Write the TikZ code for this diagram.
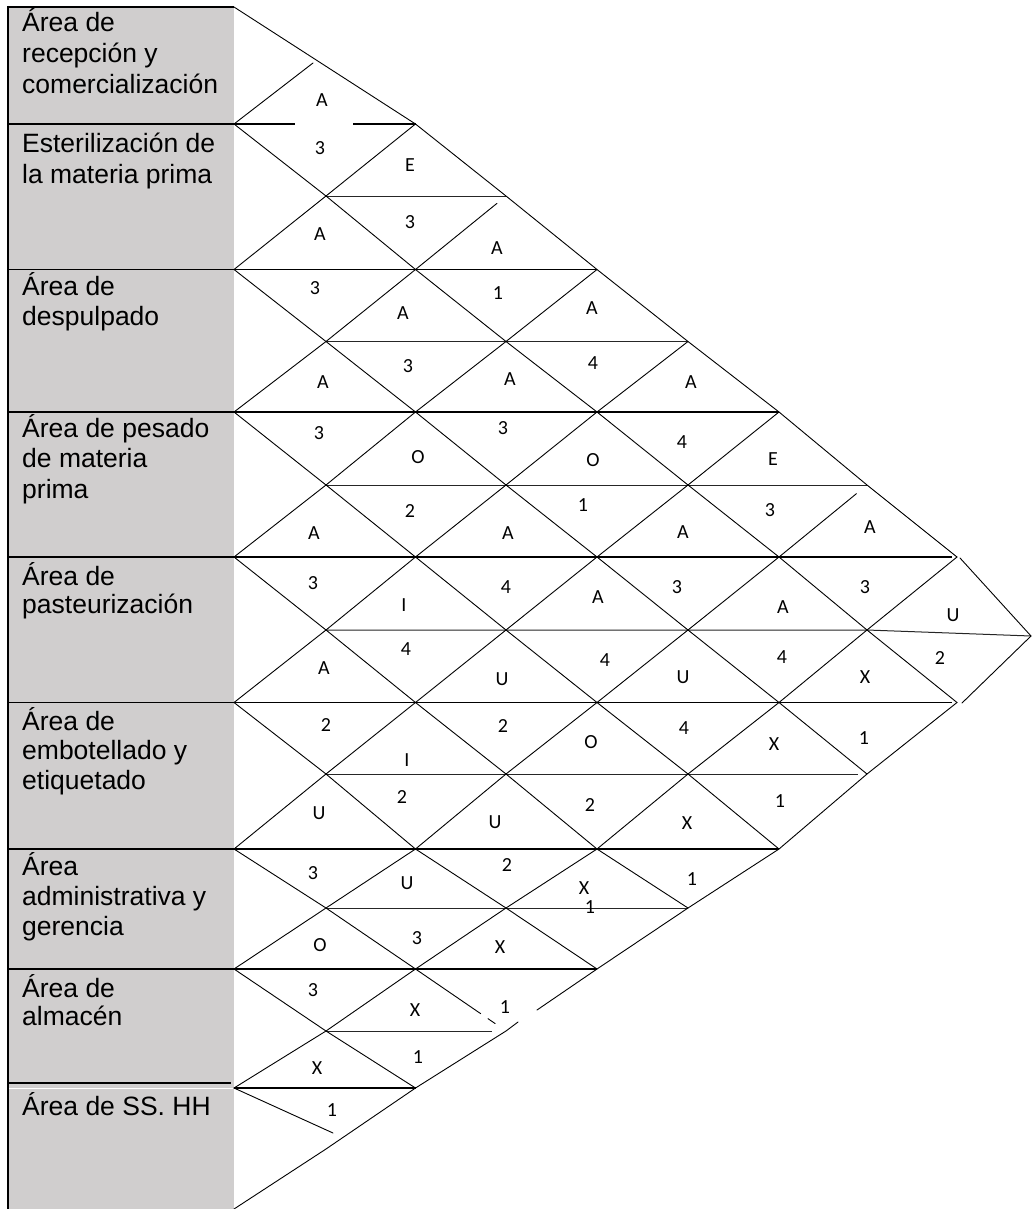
\documentclass[tikz,border=0pt]{standalone}
\usepackage{fontspec}
\setmainfont{Liberation Sans}
\newfontfamily\relfont{Carlito}
\usetikzlibrary{calc}
\definecolor{areagray}{RGB}{208,206,206}
\begin{document}
\begin{tikzpicture}[x=1pt,y=-1pt,
  bline/.style={line width=1.7pt},
  mline/.style={line width=1pt,draw=black!85},
  dline/.style={line width=0.9pt,line cap=round,line join=round},
  area/.style={anchor=base west,inner sep=0pt,font=\fontsize{26.5}{30.5}\selectfont},
  rel/.style={inner sep=0pt,font=\relfont\fontsize{20}{24}\selectfont}]
\useasboundingbox (0,0) rectangle (1034,1209);
% grey column
\fill[areagray] (8,7) rectangle (234,1209);
% lattice points
\foreach \cx [count=\colidx from 0] in {234,326,415.5,506,597,688,779,867,957,1031}{
  \foreach \cy [count=\levidx from 0] in {7,124,196,269.5,341.5,412,485,557,630,702.5,774,849,908,969,1031,1088,1149,1209}{
    \coordinate (p\colidx-\levidx) at (\cx,\cy);}}
\coordinate (p9-8) at (1031,636);
% row separators
\draw[bline] (8,7) -- (p0-0);
\draw[bline] (8,124) -- (295,124) (353,124) -- (p2-1);
\draw[bline] (8,269.5) -- (p4-3);
\draw[bline] (8,412) -- (p6-5);
\draw[bline] (8,557) -- (952,557);
\draw[bline] (8,702.5) -- (952,702.5);
\draw[bline] (8,849) -- (p6-11);
\draw[bline] (8,969) -- (p4-13);
\draw[bline] (8,1083) -- (231,1083);
\draw[white,line width=1pt] (9,1088) -- (233,1088);
\draw[bline] (p0-15) -- (p2-15);
\draw[line width=2pt] (8,6) -- (8,1209);
% middle lines
\draw[mline] (p1-2) -- (p3-2);
\draw[mline] (p1-4) -- (p5-4);
\draw[mline] (p1-6) -- (p7-6);
\draw[mline] (p1-8) -- (p7-8) -- (p9-8);
\draw[mline] (p1-10) -- (858,774);
\draw[mline] (p1-12) -- (p5-12);
\draw[mline] (p1-14) -- (492,1031);
% down-right diagonals
\draw[dline] (p0-0) -- (p2-1) -- (p3-2) -- (p4-3) -- (p5-4) -- (p6-5) -- (p7-6) -- (p8-7);
\draw[dline] (960,558) -- (p9-8);
\draw[dline] (p0-1) -- (p1-2) -- (p2-3) -- (p3-4) -- (p4-5) -- (p5-6) -- (p6-7) -- (p7-8) -- (p8-9);
\draw[dline] (p0-3) -- (p1-4) -- (p2-5) -- (p3-6) -- (p4-7) -- (p5-8) -- (p6-9) -- (p7-10);
\draw[dline] (p0-5) -- (p1-6) -- (p2-7) -- (p3-8) -- (p4-9) -- (p5-10) -- (p6-11);
\draw[dline] (p0-7) -- (p1-8) -- (p2-9) -- (p3-10) -- (p4-11) -- (p5-12);
\draw[dline] (p0-9) -- (p1-10) -- (p2-11) -- (p3-12) -- (p4-13);
\draw[dline] (p0-11) -- (p1-12) -- (p2-13) -- ($(p2-13)!0.72!(p3-14)$);
\draw[dline] ($(p2-13)!0.8!(p3-14)$) -- ($(p2-13)!0.88!(p3-14)$);
\draw[dline] (p0-13) -- (p1-14) -- (p2-15);
\draw[dline] (p0-15) -- (333,1133);
% up-right diagonals
\draw[dline] (p0-1) -- (313,63);
\draw[dline] (p0-3) -- (p1-2) -- (p2-1);
\draw[dline] (p0-5) -- (p1-4) -- (p2-3) -- ($(p2-3)!0.9!(p3-2)$);
\draw[dline] (p0-7) -- (p1-6) -- (p2-5) -- (p3-4) -- (p4-3);
\draw[dline] (p0-9) -- (p1-8) -- (p2-7) -- (p3-6) -- (p4-5) -- (p5-4);
\draw[dline] (p0-11) -- (p1-10) -- (p2-9) -- (p3-8) -- (p4-7) -- (p5-6) -- (p6-5);
\draw[dline] (p0-13) -- (p1-12) -- (p2-11) -- (p3-10) -- (p4-9) -- (p5-8) -- (p6-7) -- ($(p6-7)!0.88!(p7-6)$);
\draw[dline] (p0-15) -- (p1-14) -- (p2-13) -- (p3-12) -- (p4-11) -- (p5-10) -- (p6-9) -- (p7-8) -- (p8-7);
\draw[dline] (p0-17) -- (p1-16) -- (p2-15) -- (p3-14) -- (518,1022);
\draw[dline] (537,1010) -- (p4-13) -- (p5-12) -- (p6-11) -- (p7-10) -- (p8-9);
\draw[dline] (962,703) -- (p9-8);
% area names
\node[area] (r1a) at (22,32) {Área de};
\node[area] (r1b) at (22,63) {recepción y};
\node[area] (r1c) at (22,94) {comercialización};
\node[area] (r2a) at (22,153) {Esterilización de};
\node[area] (r2b) at (22,183) {la materia prima};
\node[area] (r3a) at (22,295) {Área de};
\node[area] (r3b) at (22,325) {despulpado};
\node[area] (r4a) at (22,437) {Área de pesado};
\node[area] (r4b) at (22,467) {de materia};
\node[area] (r4c) at (22,498) {prima};
\node[area] (r5a) at (22,585) {Área de};
\node[area] (r5b) at (22,613) {pasteurización};
\node[area] (r6a) at (22,730) {Área de};
\node[area] (r6b) at (22,759) {embotellado y};
\node[area] (r6c) at (22,789) {etiquetado};
\node[area] (r7a) at (22,875) {Área};
\node[area] (r7b) at (22,905) {administrativa y};
\node[area] (r7c) at (22,935) {gerencia};
\node[area] (r8a) at (22,997) {Área de};
\node[area] (r8b) at (22,1025) {almacén};
\node[area] (r9a) at (22,1115) {Área de SS. HH};
% relationship codes and reasons
\foreach \nm/\px/\py/\tx in {
  L12/322/100/A, N12/320/148/3,
  L13/410/165/E, N13/410/222/3,
  L23/320/234/A, N23/315/288/3,
  L14/497/248/A, N14/498/293/1,
  L24/403/313/A, N24/408/366/3,
  L15/592/308/A, N15/593/363/4,
  L34/323/382/A, N34/319/433/3,
  L25/510/379/A, N25/503/428/3,
  L16/691/382/A, N16/682/442/4,
  L35/418/457/O, N35/410/511/2,
  L26/593/460/O, N26/583/505/1,
  L17/773/459/E, N17/770/510/3,
  L45/314/533/A, N45/313/583/3,
  L36/508/533/A, N36/506/587/4,
  L27/683/532/A, N27/677/587/3,
  L18/870/527/A, N18/865/587/3,
  L46/404/605/I, N46/406/649/4,
  L37/598/597/A, N37/605/660/4,
  L28/783/607/A, N28/782/657/4,
  L19/953/615/U, N19/940/658/2,
  L56/324/668/A, N56/326/725/2,
  L47/502/679/U, N47/503/726/2,
  L38/683/677/U, N38/684/728/4,
  L29/865/677/X, N29/864/738/1,
  L57/407/760/I, N57/402/797/2,
  L48/591/742/O, N48/590/805/2,
  L39/774/744/X, N39/780/801/1,
  L67/319/813/U, N67/313/873/3,
  L58/495/822/U, N58/507/865/2,
  L49/687/823/X, N49/692/879/1,
  L68/407/883/U, N68/417/938/3,
  L59/584/888/X, N59/590/907/1,
  L78/320/945/O, N78/313/990/3,
  L69/500/947/X, N69/505/1007/1,
  L79/415/1010/X, N79/418/1057/1,
  L89/317/1068/X, N89/332/1110/1}{
  \node[rel] (\nm) at (\px,\py) {\tx};}
\end{tikzpicture}
\end{document}
